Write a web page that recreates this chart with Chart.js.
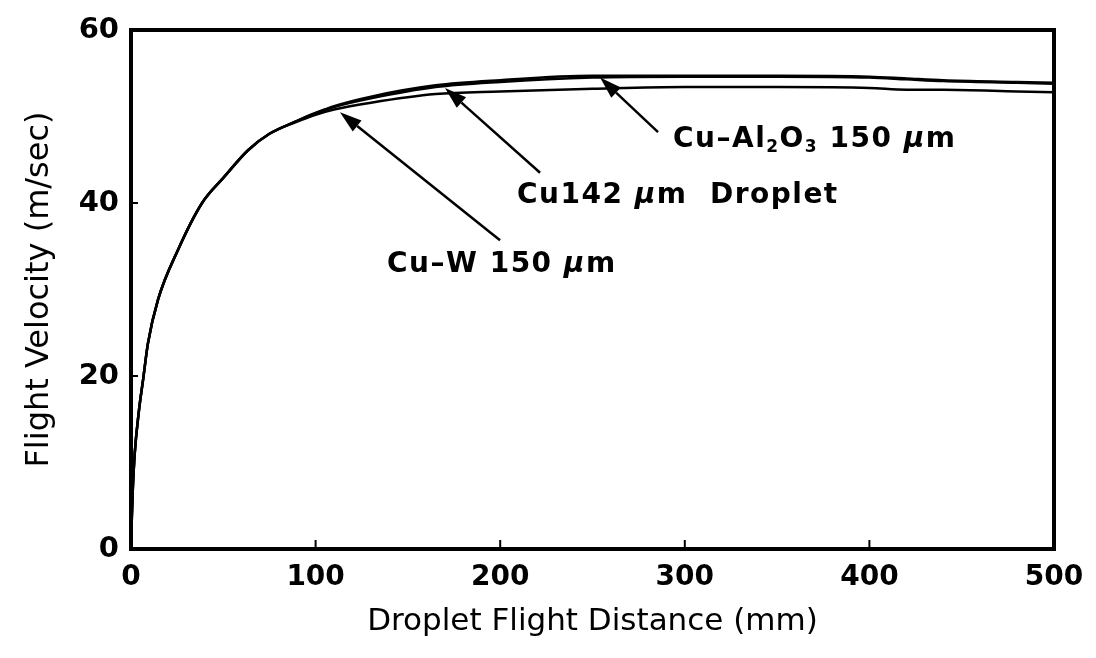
<!DOCTYPE html>
<html>
<head>
<meta charset="utf-8">
<script src="https://cdn.jsdelivr.net/npm/chart.js@4.4.1/dist/chart.umd.min.js"></script>
<style>
  html, body { margin: 0; padding: 0; background: #fff; }
  #wrap { width: 1096px; height: 658px; position: relative; }
</style>
</head>
<body>
<div id="wrap"><canvas id="c" width="1096" height="658"></canvas></div>
<script>
// ---- data ----
const distance = [0, 0.5, 1, 2, 4.3, 6.5, 9.2, 14.6, 25.5, 38.5, 50, 63.4, 75, 90, 100, 110, 130, 165, 200, 250, 300, 350, 400, 420, 440, 480, 500];
const velAl2O3 = [0, 4, 7, 11, 16, 19.5, 23.8, 28.8, 34.6, 40, 42.9, 46.1, 48.0, 49.5, 50.4, 51.2, 52.3, 53.6, 54.2, 54.7, 54.7, 54.7, 54.6, 54.4, 54.2, 54.0, 53.9];
const velCu142  = [0, 4, 7, 11, 16, 19.5, 23.8, 28.8, 34.6, 40, 42.9, 46.1, 48.0, 49.5, 50.4, 51.1, 52.1, 53.4, 54.0, 54.5, 54.6, 54.6, 54.5, 54.3, 54.1, 53.9, 53.8];
const velCuW    = [0, 4, 7, 11, 16, 19.5, 23.8, 28.8, 34.6, 40, 42.9, 46.1, 48.0, 49.4, 50.2, 50.8, 51.6, 52.6, 52.9, 53.2, 53.4, 53.4, 53.3, 53.1, 53.1, 52.9, 52.8];
const xTicks = [0, 100, 200, 300, 400, 500];
const yTicks = [0, 20, 40, 60];
const seriesNames = ["Cu-Al2O3 150 µm", "Cu 142 µm Droplet", "Cu-W 150 µm"];

// annotation labels (data coordinates) and arrows (tail -> tip)
const labels = [
  { at: [138.7, 32.0], segs: [{t:"Cu\u2013W 150 "}, {t:"\u03bc", it:true}, {t:"m"}], arrow: [[199.9, 35.7], [113.2, 50.5]] },
  { at: [209.1, 40.0], segs: [{t:"Cu142 "}, {t:"\u03bc", it:true}, {t:"m  Droplet"}], arrow: [[221.6, 43.5], [170.1, 53.3]] },
  { at: [293.6, 46.5], segs: [{t:"Cu\u2013Al"}, {t:"2", sub:true}, {t:"O"}, {t:"3", sub:true}, {t:" 150 "}, {t:"\u03bc", it:true}, {t:"m"}], arrow: [[285.5, 48.2], [254.1, 54.5]] }
];

const FONT = '"DejaVu Sans", "Liberation Sans", Arial, sans-serif';

function pts(ys) { return distance.map((x, i) => ({ x: x, y: ys[i] })); }

const framePlugin = {
  id: 'frame',
  afterDatasetsDraw(chart) {
    const ctx = chart.ctx, a = chart.chartArea;
    const xs = chart.scales.x, ys = chart.scales.y;
    ctx.save();
    ctx.strokeStyle = '#000';
    ctx.lineWidth = 4;
    ctx.strokeRect(a.left, a.top, a.right - a.left, a.bottom - a.top);
    ctx.lineWidth = 2;
    xTicks.slice(1, -1).forEach(v => {
      const px = xs.getPixelForValue(v);
      ctx.beginPath(); ctx.moveTo(px, a.bottom); ctx.lineTo(px, a.bottom - 9); ctx.stroke();
    });
    yTicks.slice(1, -1).forEach(v => {
      const py = ys.getPixelForValue(v);
      ctx.beginPath(); ctx.moveTo(a.left, py); ctx.lineTo(a.left + 7, py); ctx.stroke();
    });
    // annotations
    const size = 28;
    labels.forEach(l => {
      const x1 = xs.getPixelForValue(l.arrow[0][0]), y1 = ys.getPixelForValue(l.arrow[0][1]);
      const x2 = xs.getPixelForValue(l.arrow[1][0]), y2 = ys.getPixelForValue(l.arrow[1][1]);
      const ang = Math.atan2(y2 - y1, x2 - x1);
      const hl = 22, hw = 7;
      const bx = x2 - hl * Math.cos(ang), by = y2 - hl * Math.sin(ang);
      ctx.lineWidth = 2.5;
      ctx.beginPath(); ctx.moveTo(x1, y1); ctx.lineTo(bx, by); ctx.stroke();
      ctx.fillStyle = '#000';
      ctx.beginPath();
      ctx.moveTo(x2, y2);
      ctx.lineTo(bx + hw * Math.sin(ang), by - hw * Math.cos(ang));
      ctx.lineTo(bx - hw * Math.sin(ang), by + hw * Math.cos(ang));
      ctx.closePath(); ctx.fill();
      let tx = xs.getPixelForValue(l.at[0]);
      const ty = ys.getPixelForValue(l.at[1]);
      ctx.textBaseline = 'alphabetic';
      ctx.textAlign = 'left';
      ctx.letterSpacing = '1.5px';
      l.segs.forEach(s => {
        const fs = s.sub ? Math.round(size * 0.6) : size;
        ctx.font = (s.it ? 'italic ' : '') + 'bold ' + fs + 'px ' + FONT;
        ctx.fillText(s.t, tx, ty + (s.sub ? size * 0.18 : 0));
        tx += ctx.measureText(s.t).width;
      });
      ctx.letterSpacing = '0px';
    });
    ctx.restore();
  }
};

new Chart(document.getElementById('c'), {
  type: 'line',
  data: {
    datasets: [
      { label: seriesNames[0], data: pts(velAl2O3) },
      { label: seriesNames[1], data: pts(velCu142) },
      { label: seriesNames[2], data: pts(velCuW) }
    ].map(d => Object.assign(d, {
      borderColor: '#000', borderWidth: 2.5, pointRadius: 0, fill: false,
      cubicInterpolationMode: 'monotone'
    }))
  },
  options: {
    responsive: false,
    animation: false,
    devicePixelRatio: 1,
    layout: { padding: { top: 30, right: 42, left: 0, bottom: 0 } },
    plugins: { legend: { display: false }, tooltip: { enabled: false } },
    scales: {
      x: {
        type: 'linear', min: 0, max: 500,
        afterBuildTicks: s => { s.ticks = xTicks.map(v => ({ value: v })); },
        afterFit: s => { s.height = 109; },
        grid: { display: false, drawTicks: false },
        border: { display: false },
        ticks: { color: '#000', padding: 12, font: { family: FONT, size: 28, weight: 'bold' } },
        title: { display: true, text: 'Droplet Flight Distance (mm)', color: '#000',
                 padding: { top: 0, bottom: 17 }, font: { family: FONT, size: 31 } }
      },
      y: {
        type: 'linear', min: 0, max: 60,
        afterBuildTicks: s => { s.ticks = yTicks.map(v => ({ value: v })); },
        afterFit: s => { s.width = 131; },
        grid: { display: false, drawTicks: false },
        border: { display: false },
        ticks: { color: '#000', padding: 12, font: { family: FONT, size: 29, weight: 'bold' } },
        title: { display: true, text: 'Flight Velocity (m/sec)', color: '#000',
                 padding: { top: 20, bottom: 0 }, font: { family: FONT, size: 32 } }
      }
    }
  },
  plugins: [framePlugin]
});
</script>
</body>
</html>
